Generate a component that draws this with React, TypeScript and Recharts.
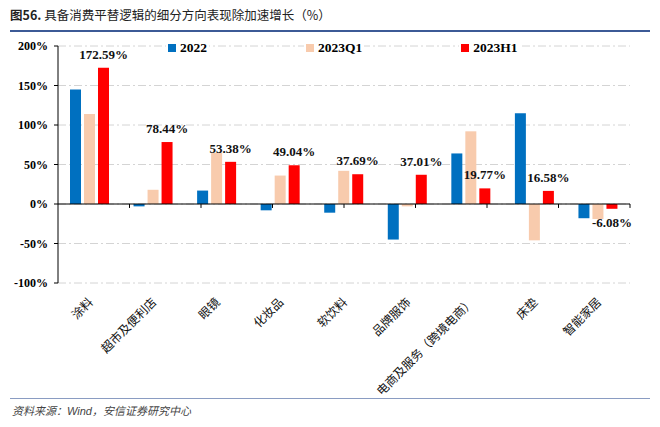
import { BarChart, Bar, XAxis, YAxis, CartesianGrid, Legend, ReferenceLine, LabelList } from 'recharts';

// categories along the x axis
const categories = ['涂料', '超市及便利店', '眼镜', '化妆品', '软饮料', '品牌服饰', '电商及服务（跨境电商）', '床垫', '智能家居'];

// growth, %
const s2022 = [145, -3, 17, -8, -11, -45, 64, 115, -18];
const s2023Q1 = [114, 18, 65, 36, 42, -3, 92, -46, -19];
const s2023H1 = [172.59, 78.44, 53.38, 49.04, 37.69, 37.01, 19.77, 16.58, -6.08];

const yTicks = [-100, -50, 0, 50, 100, 150, 200];

const series = [
  { key: 'y2022', name: '2022', color: '#0070C0' },
  { key: 'q1', name: '2023Q1', color: '#F8CBAD' },
  { key: 'h1', name: '2023H1', color: '#FF0000' },
];

const data = categories.map((name, i) => ({
  name,
  y2022: s2022[i],
  q1: s2023Q1[i],
  h1: s2023H1[i],
}));

const serif = '"Liberation Serif", "Times New Roman", serif';
const cjk = '"Noto Sans CJK SC", sans-serif';

const CatTick = (props: any) => {
  const { x, y, payload } = props;
  const ax = x;
  const ay = y + 16;
  return (
    <text
      x={ax}
      y={ay}
      transform={`rotate(-45 ${ax} ${ay})`}
      textAnchor='end'
      dominantBaseline='central'
      fontFamily={cjk}
      fontSize={12}
      fill='#111'
    >
      {payload.value}
    </text>
  );
};

const LegendBox = () => (
  <div style={{ display: 'flex', paddingLeft: 166, gap: 95, fontFamily: serif, fontWeight: 'bold', fontSize: 13.5, lineHeight: '18px' }}>
    {series.map((s) => (
      <div key={s.key} style={{ display: 'flex', alignItems: 'center', background: '#fff', padding: '0 2px' }}>
        <span style={{ width: 8, height: 8, background: s.color, marginRight: 4, display: 'inline-block' }} />
        <span style={{ color: '#000' }}>{s.name}</span>
      </div>
    ))}
  </div>
);

const App = () => {
  return (
    <div style={{ position: 'absolute', left: 0, top: 0, width: 660, height: 427, background: '#fff' }}>
      <div style={{ position: 'absolute', left: 10, top: 5, fontFamily: cjk, fontSize: 12.5, color: '#222', whiteSpace: 'nowrap' }}>
        <span style={{ fontWeight: 'bold' }}>图56.</span> 具备消费平替逻辑的细分方向表现除加速增长（%）
      </div>
      <div style={{ position: 'absolute', left: 10, top: 30, width: 640, height: 2, background: '#3c5a96' }} />

      <div style={{ position: 'absolute', left: 0, top: 0 }}>
        <BarChart
          width={660}
          height={427}
          data={data}
          margin={{ top: 28, right: 30, left: 0, bottom: 0 }}
          barSize={11}
          barGap={3}
        >
          <CartesianGrid vertical={false} stroke='#d4d4d4' strokeDasharray='8 3 2 3' />
          <XAxis
            dataKey='name'
            height={144}
            axisLine={false}
            tickLine={false}
            tickSize={0}
            tickMargin={0}
            interval={0}
            tick={<CatTick />}
          />
          <XAxis xAxisId='n' type='number' domain={[0, 9]} allowDataOverflow hide />
          <YAxis
            width={58}
            domain={[-100, 200]}
            ticks={yTicks}
            interval={0}
            tickFormatter={(v: number) => `${v}%`}
            axisLine={{ stroke: '#000' }}
            tickLine={{ stroke: '#000' }}
            tickSize={4}
            tickMargin={6}
            tick={{ fontFamily: serif, fontWeight: 'bold', fontSize: 12, fill: '#000' }}
          />
          <Legend
            verticalAlign='top'
            align='left'
            wrapperStyle={{ top: 39, left: 0, width: 660 }}
            content={() => <LegendBox />}
          />
          <ReferenceLine y={0} stroke='#000' strokeWidth={1} />
          {categories.map((_, i) => (
            <ReferenceLine
              key={i}
              xAxisId='n'
              segment={[
                { x: i + 1, y: 0 },
                { x: i + 1, y: -5 },
              ]}
              stroke='#000'
            />
          ))}
          {series.map((s) => (
            <Bar key={s.key} dataKey={s.key} name={s.name} fill={s.color} isAnimationActive={false}>
              {s.key === 'h1' && (
                <LabelList
                  dataKey='h1'
                  position='top'
                  offset={9}
                  formatter={(v: any) => `${Number(v).toFixed(2)}%`}
                  style={{ fontFamily: serif, fontWeight: 'bold', fontSize: 13, fill: '#111' }}
                />
              )}
            </Bar>
          ))}
        </BarChart>
      </div>

      <div style={{ position: 'absolute', left: 10, top: 398, width: 640, height: 1, background: '#8a9cc2' }} />
      <div style={{ position: 'absolute', left: 12, top: 402, fontFamily: cjk, fontStyle: 'italic', fontSize: 11, color: '#444', whiteSpace: 'nowrap' }}>
        资料来源：<span style={{ fontFamily: '"Liberation Sans", Arial, sans-serif' }}>Wind</span>，安信证券研究中心
      </div>
    </div>
  );
};

export default App;
